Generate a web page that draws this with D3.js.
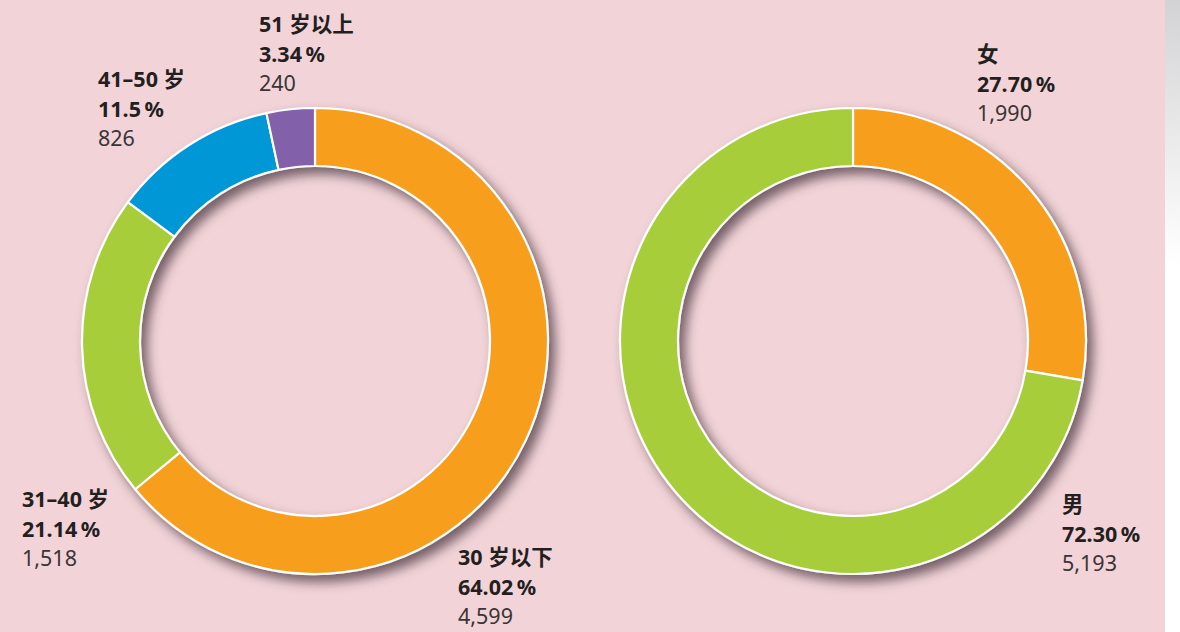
<!DOCTYPE html>
<html>
<head>
<meta charset="utf-8">
<script src="https://cdn.jsdelivr.net/npm/d3@7"></script>
<style>
  html, body { margin: 0; padding: 0; background: #f2d4d8; }
  svg { display: block; }
  text { font-family: "Noto Sans", "Noto Sans CJK SC", sans-serif; }
</style>
</head>
<body>
<svg id="chart" width="1180" height="632"></svg>
<script>
// age groups
const ageLabels = ['30 岁以下', '31–40 岁', '41–50 岁', '51 岁以上']
const ageValues = [4599, 1518, 826, 240]
const agePercents = ['64.02', '21.14', '11.5', '3.34']
const ageColors = ['#f79f1f', '#a8cd3b', '#0097d6', '#8361aa']

// gender
const genderLabels = ['女', '男']
const genderValues = [1990, 5193]
const genderPercents = ['27.70', '72.30']
const genderColors = ['#f79f1f', '#a8cd3b']

// label anchors (top-left baseline of first line)
const ageLabelPos = [[458, 565], [22, 507], [98, 87], [259, 32]]
const genderLabelPos = [[977, 62], [1062, 512]]

const W = 1180
const H = 632
const svg = d3.select('#chart')

const defs = svg.append('defs')
const grad = defs.append('linearGradient')
  .attr('id', 'strip').attr('x1', 0).attr('y1', 0).attr('x2', 0).attr('y2', 1)
grad.append('stop').attr('offset', '0%').attr('stop-color', '#d3d3d5')
grad.append('stop').attr('offset', '42%').attr('stop-color', '#ffffff')
grad.append('stop').attr('offset', '100%').attr('stop-color', '#ffffff')

const shadow = defs.append('filter')
  .attr('id', 'shadow')
  .attr('x', '-20%').attr('y', '-20%').attr('width', '140%').attr('height', '140%')
shadow.append('feDropShadow')
  .attr('dx', 6).attr('dy', 7)
  .attr('stdDeviation', 6)
  .attr('flood-color', '#4a3440')
  .attr('flood-opacity', 0.75)

svg.append('rect').attr('width', W).attr('height', H).attr('fill', '#f2d4d8')
svg.append('rect')
  .attr('x', 1165).attr('y', 0).attr('width', W - 1165).attr('height', H)
  .attr('fill', 'url(#strip)')

const outerR = 233
const innerR = 175

const pie = d3.pie().sort(null).value((d) => d)
const arc = d3.arc().innerRadius(innerR).outerRadius(outerR)

const drawDonut = (cx, cy, values, colors) => {
  const g = svg.append('g')
    .attr('transform', `translate(${cx},${cy})`)
    .attr('filter', 'url(#shadow)')
  g.selectAll('path')
    .data(pie(values))
    .join('path')
    .attr('d', arc)
    .attr('fill', (d, i) => colors[i])
    .attr('stroke', '#ffffff')
    .attr('stroke-width', 2.2)
    .attr('stroke-linejoin', 'round')
}

const drawLabels = (labels, percents, values, pos) => {
  const fmt = d3.format(',')
  labels.forEach((lab, i) => {
    const [x, y] = pos[i]
    const t = svg.append('text').attr('x', x).attr('y', y).attr('fill', '#231f20')
    t.append('tspan').attr('x', x).attr('dy', 0)
      .attr('font-weight', 700).attr('font-size', 21.5).text(lab)
    t.append('tspan').attr('x', x).attr('dy', 29.5)
      .attr('font-weight', 700).attr('font-size', 21.5).text(percents[i] + '\u2009%')
    t.append('tspan').attr('x', x).attr('dy', 29)
      .attr('font-weight', 400).attr('font-size', 21.5).attr('fill', '#3a3536')
      .text(fmt(values[i]))
  })
}

drawDonut(315, 341, ageValues, ageColors)
drawDonut(853, 341, genderValues, genderColors)
drawLabels(ageLabels, agePercents, ageValues, ageLabelPos)
drawLabels(genderLabels, genderPercents, genderValues, genderLabelPos)
</script>
</body>
</html>
